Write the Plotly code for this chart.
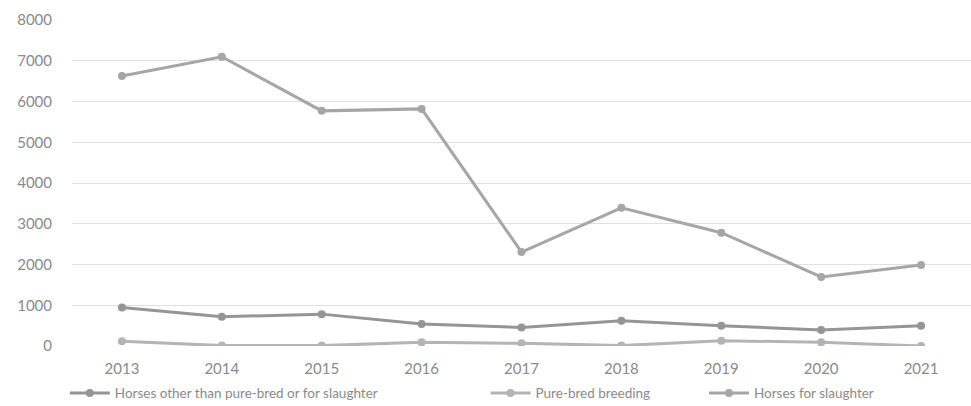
import plotly.graph_objects as go

years = ["2013", "2014", "2015", "2016", "2017", "2018", "2019", "2020", "2021"]
horses_other = [946, 717, 782, 538, 457, 619, 497, 391, 497]
pure_bred = [115, 10, 10, 90, 66, 10, 130, 90, 0]
slaughter = [6626, 7098, 5770, 5819, 2306, 3391, 2780, 1695, 1988]
y_ticks = [0, 1000, 2000, 3000, 4000, 5000, 6000, 7000, 8000]

names = ["Horses other than pure-bred or for slaughter", "Pure-bred breeding", "Horses for slaughter"]
colors = ["#959595", "#b4b4b4", "#a6a6a6"]
series = [horses_other, pure_bred, slaughter]
legends = ["legend", "legend2", "legend3"]

fig = go.Figure()
for name, col, vals, lg in zip(names, colors, series, legends):
    fig.add_trace(go.Scatter(
        x=years, y=vals, name=name, mode="lines+markers",
        line=dict(color=col, width=3),
        marker=dict(color=col, size=8, symbol="circle"),
        legend=lg,
    ))

tick_font = dict(family="Lato, 'Open Sans', sans-serif", size=15, color="#8a8a8a")
leg_font = dict(family="Lato, 'Open Sans', sans-serif", size=13.5, color="#8a8a8a")
leg_common = dict(orientation="h", yanchor="middle", y=-0.145, xanchor="left",
                  font=leg_font, bgcolor="rgba(0,0,0,0)", itemwidth=40)

fig.update_layout(
    width=971, height=406,
    margin=dict(l=72, r=0, t=20, b=60, autoexpand=False),
    paper_bgcolor="white", plot_bgcolor="white",
    font=tick_font,
    xaxis=dict(type="category", showgrid=False, zeroline=False, showline=False, automargin=False,
               ticks="", tickfont=tick_font, range=[-0.5, 8.5], ticklabelstandoff=12),
    yaxis=dict(range=[0, 8000], tickvals=y_ticks, showgrid=True, gridcolor="#e0e0e0", automargin=False,
               gridwidth=1, zeroline=False, showline=False, ticks="", tickfont=tick_font,
               ticklabelstandoff=19),
    legend=dict(x=-0.008, **leg_common),
    legend2=dict(x=0.46, **leg_common),
    legend3=dict(x=0.703, **leg_common),
    showlegend=True,
)

fig.write_html("out.html")
